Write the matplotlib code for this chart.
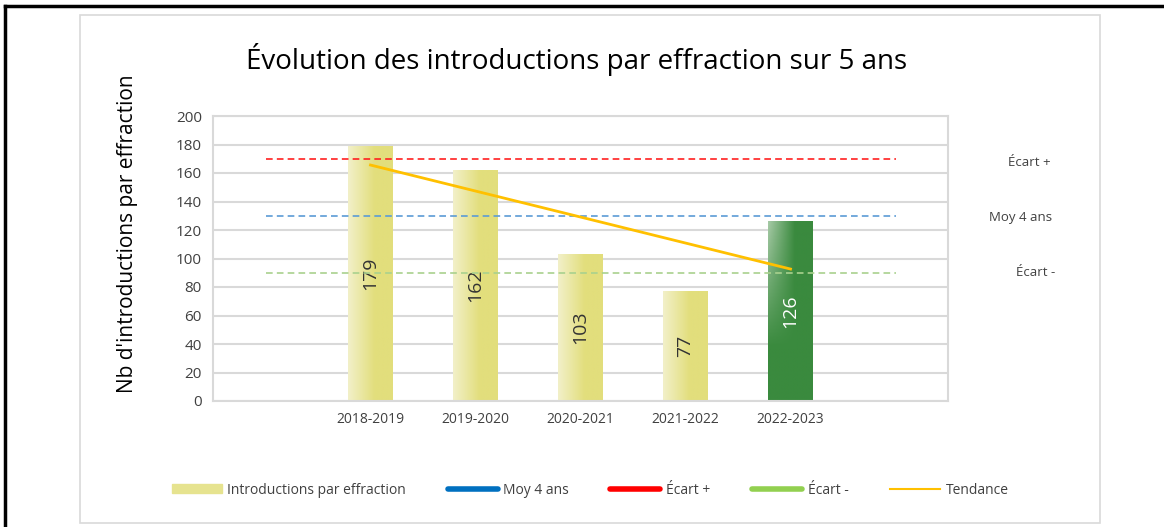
import numpy as np
import matplotlib
matplotlib.use("Agg")
import matplotlib.pyplot as plt
from matplotlib.patches import Patch, Rectangle
from matplotlib.lines import Line2D
from matplotlib.colors import to_rgb

# données
saisons = ["", "2018-2019", "2019-2020", "2020-2021", "2021-2022", "2022-2023", ""]
introductions = [179, 162, 103, 77, 126]
moy_4_ans = 130
ecart_plus = 170
ecart_moins = 90
tendance_x = [0, 4]
tendance_y = [165.6, 92.6]

plt.rcParams["font.family"] = ["Open Sans", "DejaVu Sans"]

fig = plt.figure(figsize=(11.64, 5.27), dpi=100)

# cadres autour du graphique
fig.add_artist(Line2D([5 / 1164, 1], [1 - 6 / 527] * 2, color="black", lw=2.5))
fig.add_artist(Line2D([5 / 1164] * 2, [0, 1 - 6 / 527], color="black", lw=2.5))
fig.add_artist(Rectangle((80 / 1164, 1 - 523 / 527), 1020 / 1164, 508 / 527,
                         fill=False, ec="#D9D9D9", lw=1.2))

ax = fig.add_axes([213 / 1164, 1 - 401 / 527, 735 / 1164, 285 / 527])
x = np.arange(len(introductions)) + 1

# barres avec dégradé
couleurs = ["#E2DE7C"] * 4 + ["#3A8A3E"]
clairs = ["#F2F0C8"] * 4 + ["#A5C9A5"]
largeur = 0.42
for xi, val, c, cl in zip(x, introductions, couleurs, clairs):
    bar = ax.bar(xi, val, largeur, color=c, zorder=2)[0]
    c0, c1 = np.array(to_rgb(cl)), np.array(to_rgb(c))
    t = np.clip(np.linspace(0, 1, 50) / 0.6, 0, 1)
    grad = (c0[None, :] * (1 - t[:, None]) + c1[None, :] * t[:, None])[None, :, :]
    if c == "#3A8A3E":
        tv = np.clip(np.linspace(0, 1, 50) / 0.7, 0, 1)[:, None, None]
        grad = grad * (1 - tv) + c1[None, None, :] * tv
    else:
        grad = np.repeat(grad, 2, axis=0)
    im = ax.imshow(grad, extent=[xi - largeur / 2, xi + largeur / 2, 0, val],
                   aspect="auto", zorder=2.1, origin="upper")
    im.set_clip_path(bar)
    ax.text(xi, val / 2, str(val), rotation=90, ha="center", va="center",
            fontsize=14, color="white" if c == "#3A8A3E" else "#333333", zorder=3)

# lignes de référence
xs = [0, len(saisons) - 1]
ax.plot(xs, [ecart_plus] * 2, color="#FF2020", lw=1.2, dashes=(4, 2.5), zorder=4)
ax.plot(xs, [moy_4_ans] * 2, color="#5B9BD5", lw=1.2, dashes=(4, 2.5), zorder=4)
ax.plot(xs, [ecart_moins] * 2, color="#A9D18E", lw=1.2, dashes=(4, 2.5), zorder=4)
ax.plot(np.array(tendance_x) + 1, tendance_y, color="#FFC000", lw=2, zorder=5)

ax.set_xlim(-0.5, len(saisons) - 0.5)
ax.set_ylim(0, 200)
ax.set_yticks(range(0, 201, 20))
ax.set_xticks(range(len(saisons)))
ax.set_xticklabels(saisons)
ax.tick_params(length=0, labelsize=10, colors="#404040", pad=8)
ax.tick_params(axis="y", labelsize=11, pad=8)
ax.grid(axis="y", color="#D9D9D9", lw=1.5, zorder=0)
for s in ax.spines.values():
    s.set_color("#D9D9D9")
    s.set_linewidth(1.5)

fig.text(127 / 1164, 1 - 234 / 527, "Nb d'introductions par effraction", rotation=90,
         ha="center", va="center", fontsize=15, color="black")
fig.text(577 / 1164, 1 - 60 / 527, "Évolution des introductions par effraction sur 5 ans",
         ha="center", va="center", fontsize=20)

# étiquettes à droite
fig.text(1029 / 1164, 1 - 163 / 527, "Écart +", ha="center", va="center", fontsize=9.5, color="#404040")
fig.text(1021 / 1164, 1 - 217 / 527, "Moy 4 ans", ha="center", va="center", fontsize=9.5, color="#404040")
fig.text(1036 / 1164, 1 - 272 / 527, "Écart -", ha="center", va="center", fontsize=9.5, color="#404040")

handles = [
    Patch(color="#E6E38F"),
    Line2D([], [], color="#0070C0", lw=4, solid_capstyle="round"),
    Line2D([], [], color="#FF0000", lw=4, solid_capstyle="round"),
    Line2D([], [], color="#92D050", lw=4, solid_capstyle="round"),
    Line2D([], [], color="#FFC000", lw=1.5),
]
labels = ["Introductions par effraction", "Moy 4 ans", "Écart +", "Écart -", "Tendance"]
fig.legend(handles, labels, loc="center", bbox_to_anchor=(590 / 1164, 1 - 490 / 527),
           ncol=5, frameon=False, fontsize=10, handlelength=3.6, handleheight=0.6,
           columnspacing=3.0, handletextpad=0.4, labelcolor="#404040")

fig.savefig("out.png", dpi=100)
